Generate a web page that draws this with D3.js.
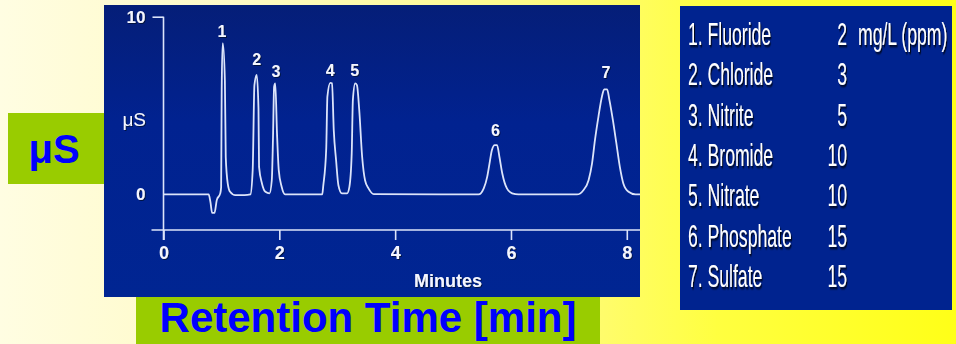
<!DOCTYPE html>
<html>
<head>
<meta charset="utf-8">
<script src="https://cdn.jsdelivr.net/npm/d3@7"></script>
<style>
  html, body { margin: 0; padding: 0; background: #fffde0; }
  svg { display: block; }
</style>
</head>
<body>
<svg id="chart" width="956" height="344"></svg>
<script>
// ---- data ----
const traceTime = [0, 0.78, 0.81, 0.84, 0.88, 0.92, 0.98, 0.995, 1.00, 1.005, 1.02, 1.025, 1.06, 1.075, 1.11, 1.15, 1.24, 1.40, 1.50,
  1.54, 1.57, 1.61, 1.64, 1.65, 1.70, 1.76, 1.83, 1.87, 1.89, 1.91, 1.93, 1.96, 1.99, 2.04, 2.10,
  2.74, 2.76, 2.81, 2.83, 2.88, 2.91, 2.94, 2.98, 3.02, 3.08, 3.17, 3.21, 3.25, 3.27, 3.31, 3.34, 3.38, 3.43, 3.48, 3.54, 3.63,
  5.44, 5.53, 5.59, 5.63, 5.67, 5.72, 5.76, 5.80, 5.85, 5.93, 6.02, 6.13,
  7.14, 7.25, 7.34, 7.40, 7.45, 7.51, 7.57, 7.61, 7.66, 7.70, 7.76, 7.82, 7.88, 7.94, 8.03, 8.15, 8.25];
const traceSignal = [0, 0, -0.42, -1.04, -1.04, -0.32, 0.06, 0.4, 3.0, 5.9, 8.5, 8.5, 6.4, 2.1, 0.6, 0.15, -0.04, -0.04, 0.0,
  1.37, 6.15, 6.72, 4.84, 1.55, 0.62, 0.15, 0.06, 0.8, 3.06, 6.06, 6.25, 3.43, 1.37, 0.43, 0.0,
  0.0, 0.52, 2.59, 5.5, 6.28, 6.25, 3.62, 1.93, 0.52, 0.06, 0.06, 0.43, 2.31, 5.31, 6.25, 6.15, 4.75, 2.12, 0.8, 0.34, 0.02,
  0, 0.34, 1.0, 1.75, 2.49, 2.78, 2.78, 2.12, 1.18, 0.34, 0.06, 0,
  0, 0.24, 0.8, 1.75, 3.06, 4.37, 5.5, 5.91, 5.91, 5.31, 4.18, 2.87, 1.55, 0.62, 0.15, 0, 0];

const peakIds = ["1", "2", "3", "4", "5", "6", "7"];
const peakLabelTime = [1.01, 1.61, 1.94, 2.88, 3.30, 5.73, 7.64];
const peakLabelLevel = [8.86, 7.28, 6.61, 6.67, 6.67, 3.29, 6.55];

const xTicks = [0, 2, 4, 6, 8];
const yTicks = [0, 10];

const analyteNames = ["Fluoride", "Chloride", "Nitrite", "Bromide", "Nitrate", "Phosphate", "Sulfate"];
const concentrations = [2, 3, 5, 10, 10, 15, 15];
const concUnit = "mg/L (ppm)";

const yAxisTitle = "μS";
const xAxisTitle = "Minutes";
const bigYLabel = "μS";
const bigXLabel = "Retention Time [min]";

// ---- drawing ----
const svg = d3.select("#chart");
const defs = svg.append("defs");

const bg = defs.append("linearGradient").attr("id", "bg").attr("x1", 0).attr("x2", 1).attr("y1", 0).attr("y2", 0);
bg.append("stop").attr("offset", "0%").attr("stop-color", "#fffde2");
bg.append("stop").attr("offset", "25%").attr("stop-color", "#fffac4");
bg.append("stop").attr("offset", "55%").attr("stop-color", "#fffa88");
bg.append("stop").attr("offset", "75%").attr("stop-color", "#ffff40");
bg.append("stop").attr("offset", "100%").attr("stop-color", "#ffff18");

const pg = defs.append("linearGradient").attr("id", "panel").attr("x1", 0).attr("x2", 0).attr("y1", 0).attr("y2", 1);
pg.append("stop").attr("offset", "0%").attr("stop-color", "#051e78");
pg.append("stop").attr("offset", "40%").attr("stop-color", "#012290");
pg.append("stop").attr("offset", "100%").attr("stop-color", "#002592");

const sh = defs.append("filter").attr("id", "shadow").attr("x", "-10%").attr("y", "-10%").attr("width", "130%").attr("height", "140%");
sh.append("feDropShadow").attr("dx", 2).attr("dy", 2).attr("stdDeviation", 0.8)
  .attr("flood-color", "#000").attr("flood-opacity", 0.85);

const sh2 = defs.append("filter").attr("id", "shadow2").attr("x", "-20%").attr("y", "-20%").attr("width", "150%").attr("height", "150%");
sh2.append("feDropShadow").attr("dx", 1).attr("dy", 1).attr("stdDeviation", 0.5)
  .attr("flood-color", "#000a30").attr("flood-opacity", 0.8);

svg.append("rect").attr("width", 956).attr("height", 344).attr("fill", "url(#bg)");

// chart panel
const panel = { x: 104, y: 5, w: 536, h: 292 };
svg.append("rect").attr("x", panel.x).attr("y", panel.y).attr("width", panel.w).attr("height", panel.h).attr("fill", "url(#panel)");

defs.append("clipPath").attr("id", "clip").append("rect")
  .attr("x", panel.x).attr("y", panel.y).attr("width", panel.w).attr("height", panel.h);

const x = d3.scaleLinear().domain([0, 8]).range([163.5, 626.8]);
const y = d3.scaleLinear().domain([-2, 10]).range([230, 16.7]);

const fg = "#dce4fa";
const fontChart = "'Liberation Sans', Arial, sans-serif";

const g = svg.append("g").attr("clip-path", "url(#clip)");

// x axis
const xAxis = g.append("g").attr("transform", `translate(0,${y(-2)})`)
  .call(d3.axisBottom(x).tickValues(xTicks).tickSize(10).tickPadding(6).tickFormat(d3.format("d")));
xAxis.select(".domain").remove();
xAxis.selectAll(".tick line").attr("stroke", fg).attr("stroke-width", 1.6);
xAxis.selectAll(".tick text").attr("fill", "#f4f6ff").attr("font-size", 18).attr("font-weight", "bold")
  .attr("font-family", fontChart).attr("filter", "url(#shadow2)");
g.append("line").attr("x1", x(0) - 12).attr("x2", panel.x + panel.w).attr("y1", y(-2)).attr("y2", y(-2))
  .attr("stroke", fg).attr("stroke-width", 1.6);

// y axis
const yAxis = g.append("g").attr("transform", `translate(${x(0)},0)`)
  .call(d3.axisLeft(y).tickValues(yTicks).tickSize(11).tickPadding(7).tickFormat(d3.format("d")));
yAxis.select(".domain").remove();
yAxis.selectAll(".tick line").attr("stroke", fg).attr("stroke-width", 1.6)
  .attr("x2", d => d === 0 ? 0 : -11);
yAxis.selectAll(".tick text").attr("fill", "#f4f6ff").attr("font-size", 17).attr("font-weight", "bold")
  .attr("font-family", fontChart).attr("filter", "url(#shadow2)");
g.append("line").attr("x1", x(0)).attr("x2", x(0)).attr("y1", y(10)).attr("y2", y(-2) + 10)
  .attr("stroke", fg).attr("stroke-width", 1.6);

g.append("text").attr("x", 146).attr("y", 126).attr("text-anchor", "end")
  .attr("fill", "#f4f6ff").attr("font-size", 19).attr("font-family", fontChart)
  .attr("filter", "url(#shadow2)").text(yAxisTitle);

g.append("text").attr("x", 448).attr("y", 287).attr("text-anchor", "middle")
  .attr("fill", "#f4f6ff").attr("font-size", 18).attr("font-weight", "bold").attr("font-family", fontChart)
  .attr("filter", "url(#shadow2)").text(xAxisTitle);

// trace
const pts = traceTime.map((t, i) => [t, traceSignal[i]]);
const line = d3.line().x(d => x(d[0])).y(d => y(d[1])).curve(d3.curveMonotoneX);
g.append("path").datum(pts).attr("d", line).attr("fill", "none")
  .attr("stroke", fg).attr("stroke-width", 1.8).attr("stroke-linejoin", "round");

// peak labels
g.selectAll(".plabel").data(peakIds).join("text").attr("class", "plabel")
  .attr("x", (d, i) => x(peakLabelTime[i])).attr("y", (d, i) => y(peakLabelLevel[i]))
  .attr("text-anchor", "middle").attr("fill", "#f4f6ff").attr("font-size", 16).attr("font-weight", "bold")
  .attr("font-family", fontChart).attr("filter", "url(#shadow2)").text(d => d);

// green label boxes
svg.append("rect").attr("x", 8).attr("y", 113).attr("width", 96).attr("height", 71).attr("fill", "#99cc00");
svg.append("text").attr("x", 54).attr("y", 163).attr("text-anchor", "middle").attr("fill", "#0000ff")
  .attr("font-size", 40).attr("font-weight", "bold").attr("font-family", fontChart).text(bigYLabel);

svg.append("rect").attr("x", 136).attr("y", 297).attr("width", 464).attr("height", 47).attr("fill", "#99cc00");
svg.append("text").attr("x", 368).attr("y", 332).attr("text-anchor", "middle").attr("fill", "#0000ff")
  .attr("font-size", 42).attr("font-weight", "bold").attr("font-family", fontChart).text(bigXLabel);

// legend panel
svg.append("rect").attr("x", 680).attr("y", 6).attr("width", 272).attr("height", 304).attr("fill", "#00238f");
const rowY = d3.scaleLinear().domain([0, 6]).range([45, 287]);
const sx = 0.55;
const leg = svg.append("g").attr("font-family", fontChart).attr("font-size", 32).attr("fill", "#ffffff");
leg.selectAll(".name").data(analyteNames).join("text").attr("class", "name")
  .attr("transform", (d, i) => `translate(688,${rowY(i)}) scale(${sx},1)`)
  .attr("filter", "url(#shadow)").text((d, i) => `${i + 1}. ${d}`);
leg.selectAll(".conc").data(concentrations).join("text").attr("class", "conc")
  .attr("transform", (d, i) => `translate(847,${rowY(i)}) scale(${sx},1)`)
  .attr("text-anchor", "end").attr("filter", "url(#shadow)").text(d => d);
leg.append("text").attr("transform", `translate(858,${rowY(0)}) scale(${sx},1)`)
  .attr("filter", "url(#shadow)").text(concUnit);
</script>
</body>
</html>
